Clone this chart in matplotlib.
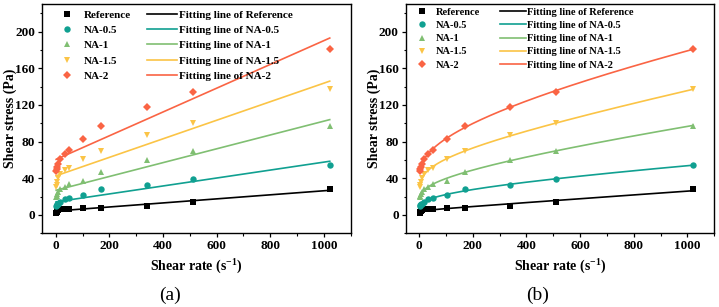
import numpy as np
import matplotlib
matplotlib.use('Agg')
import matplotlib.pyplot as plt
from matplotlib.ticker import MultipleLocator

# ==========================================
# 1. DADOS
# ==========================================
shear_rate = np.array([1.7, 3.4, 5.1, 10.2, 17, 34, 51, 102, 170, 340, 511, 1022])

ref = np.array([2, 3, 4, 5, 6, 7, 7, 7.5, 8, 10, 14, 28])
na05 = np.array([9.5, 10.5, 11.5, 12.5, 14, 17, 18, 22, 28, 33, 39, 54.5])
na1 = np.array([19.5, 21, 23, 25, 28, 31, 34, 37.5, 47, 60, 70, 97.5])
na15 = np.array([31, 33, 36, 40, 45, 49, 51, 61, 70, 87, 100, 137])
na2 = np.array([48, 50, 52, 56, 61, 67, 71, 83, 97, 118, 134.5, 181])

names = ['Reference', 'NA-0.5', 'NA-1', 'NA-1.5', 'NA-2']
series = [ref, na05, na1, na15, na2]
colors = ['#000000', '#10a091', '#80bf72', '#fbc446', '#fa6444']
markers = ['s', 'o', '^', 'v', 'D']
msizes = [4.2, 4.6, 4.8, 4.8, 4.0]

# ==========================================
# 2. FONTES
# ==========================================
plt.rcParams['font.family'] = ['Liberation Serif', 'DejaVu Serif']
plt.rcParams['font.weight'] = 'bold'
plt.rcParams['mathtext.fontset'] = 'custom'
plt.rcParams['mathtext.rm'] = 'Liberation Serif:bold'
plt.rcParams['mathtext.default'] = 'rm'


# ==========================================
# 3. AJUSTES
# ==========================================
def fit_linear(x, y):
    p = np.polyfit(x, y, 1)
    return lambda g: np.polyval(p, g)


def fit_curve(x, y):
    # tau = t0 + a*g + b*g^n, procura de n em grelha
    best = None
    for n in np.linspace(0.05, 0.95, 181):
        A = np.column_stack([np.ones_like(x), x, x ** n])
        coef = np.linalg.lstsq(A, y, rcond=None)[0]
        err = np.sum((A @ coef - y) ** 2)
        if best is None or err < best[0]:
            best = (err, n, coef)
    _, n, c = best
    return lambda g: c[0] + c[1] * g + c[2] * g ** n


g_dense = np.unique(np.concatenate([np.geomspace(shear_rate.min(), shear_rate.max(), 200),
                                    np.linspace(shear_rate.min(), shear_rate.max(), 300)]))

# ==========================================
# 4. GRÁFICO
# ==========================================
fig = plt.figure(figsize=(7.19, 3.07), dpi=100)
ax_a = fig.add_axes([0.0588, 0.240, 0.4289, 0.747])
ax_b = fig.add_axes([0.5644, 0.240, 0.4289, 0.747])

panels = [(ax_a, fit_linear, 8.0, 2.66, 0.5, 1.45, 0.033, 0.2, 0.975),
          (ax_b, fit_curve, 7.5, 2.5, 0.38, 1.9, 0.009, 0.1, 0.985)]

for ax, fitter, lfs, hlen, lspace, cspace, lx, tpad, ly in panels:
    pts, lines = [], []
    for name, y, c, m, ms in zip(names, series, colors, markers, msizes):
        h, = ax.plot(shear_rate, y, linestyle='none', marker=m, ms=ms,
                     color=c, markeredgewidth=0, label=name, zorder=3)
        pts.append(h)
    for name, y, c in zip(names, series, colors):
        f = fitter(shear_rate, y)
        h, = ax.plot(g_dense, f(g_dense), color=c, lw=1.2,
                     label='Fitting line of ' + name, zorder=2)
        lines.append(h)

    ax.set_xlim(-50, 1100)
    ax.set_ylim(-20, 230)
    ax.xaxis.set_major_locator(MultipleLocator(200))
    ax.xaxis.set_minor_locator(MultipleLocator(100))
    ax.yaxis.set_major_locator(MultipleLocator(40))
    ax.yaxis.set_minor_locator(MultipleLocator(20))
    ax.tick_params(which='major', direction='out', length=3, width=0.9, labelsize=9.5, pad=2)
    ax.tick_params(which='minor', direction='out', length=1.8, width=0.8)
    for lab in ax.get_xticklabels() + ax.get_yticklabels():
        lab.set_fontweight('bold')
    for sp in ax.spines.values():
        sp.set_linewidth(1.0)

    handles = pts + lines
    ax.legend(handles=handles, labels=[h.get_label() for h in handles], ncol=2,
              loc='upper left', bbox_to_anchor=(lx, ly), frameon=False,
              handlelength=hlen, handletextpad=tpad,
              labelspacing=lspace, columnspacing=cspace,
              borderaxespad=0, borderpad=0,
              prop={'weight': 'bold', 'size': lfs})

    bb = ax.get_position()
    fig.text(bb.x0 - 32 / 719, (bb.y0 + bb.y1) / 2, 'Shear stress (Pa)',
             rotation=90, ha='center', va='center', fontsize=10, fontweight='bold')
    fig.text((bb.x0 + bb.x1) / 2, 1 - 267 / 307, r'Shear rate (s$^{-1}$)',
             ha='center', va='center', fontsize=10, fontweight='bold')

fig.text(170 / 719, 1 - 295 / 307, '(a)', ha='center', va='center',
         fontsize=14, fontweight='normal')
fig.text(538 / 719, 1 - 295 / 307, '(b)', ha='center', va='center',
         fontsize=14, fontweight='normal')

plt.savefig('out.png', dpi=100)
